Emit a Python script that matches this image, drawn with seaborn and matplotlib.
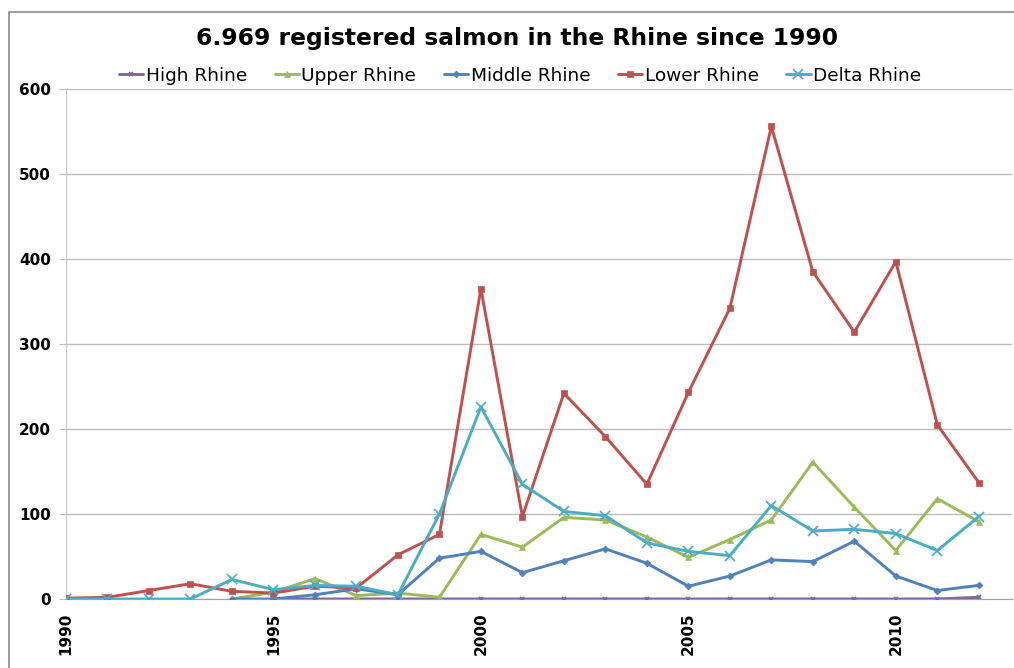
import numpy as np
import pandas as pd
import matplotlib
matplotlib.use("Agg")
import matplotlib.pyplot as plt
from matplotlib.patches import Rectangle
import seaborn as sns

years = list(range(1990, 2013))
high_rhine = [None]*5 + [0, 0, 0, 0, 0, 0, 0, 0, 0, 0, 0, 0, 0, 0, 0, 0, 0, 2]
upper_rhine = [None]*4 + [0, 8, 24, 4, 7, 2, 76, 61, 96, 93, 73, 49, 70, 93, 161, 108, 57, 118, 91]
middle_rhine = [None]*4 + [0, 0, 5, 12, 5, 48, 56, 31, 45, 59, 42, 15, 27, 46, 44, 68, 27, 10, 16]
lower_rhine = [1, 2, 10, 18, 9, 7, 15, 13, 52, 76, 365, 97, 242, 191, 135, 243, 342, 556, 385, 314, 397, 205, 137]
delta_rhine = [0, 0, 0, 0, 23, 11, 16, 15, 5, 100, 226, 135, 103, 98, 66, 56, 51, 110, 80, 82, 77, 57, 97]

series = {
    "High Rhine": high_rhine,
    "Upper Rhine": upper_rhine,
    "Middle Rhine": middle_rhine,
    "Lower Rhine": lower_rhine,
    "Delta Rhine": delta_rhine,
}
colors = {
    "High Rhine": "#8064A2",
    "Upper Rhine": "#9BBB59",
    "Middle Rhine": "#4F81BD",
    "Lower Rhine": "#C0504D",
    "Delta Rhine": "#4BACC6",
}
markers = {
    "High Rhine": "x",
    "Upper Rhine": "^",
    "Middle Rhine": "D",
    "Lower Rhine": "s",
    "Delta Rhine": "x",
}
msize = {
    "High Rhine": 3.5,
    "Upper Rhine": 4,
    "Middle Rhine": 3.5,
    "Lower Rhine": 4,
    "Delta Rhine": 7,
}

rows = []
for name, vals in series.items():
    for y, v in zip(years, vals):
        if v is not None:
            rows.append({"Year": y, "Salmon": v, "Region": name})
df = pd.DataFrame(rows)

sns.set_style("white")
plt.rcParams['font.family'] = ['DejaVu Sans']
plt.rcParams['text.color'] = 'black'
plt.rcParams['xtick.color'] = 'black'
plt.rcParams['ytick.color'] = 'black'

fig = plt.figure(figsize=(10.14, 6.68), dpi=100)
ax = fig.add_axes([66/1014, 1 - 599/668, (1012 - 66)/1014, (599 - 89)/668])

for name in series:
    sub = df[df["Region"] == name]
    sns.lineplot(data=sub, x="Year", y="Salmon", ax=ax, color=colors[name],
                 marker=markers[name], markersize=msize[name], linewidth=2.1,
                 markeredgewidth=1.2 if markers[name] == "x" else 0.5,
                 markeredgecolor=colors[name], label=name, zorder=3)

ax.set_xlim(1990, 2012.8)
ax.set_ylim(0, 600)
ax.set_yticks(range(0, 601, 100))
ax.set_xticks([1990, 1995, 2000, 2005, 2010])
ax.set_xticklabels(["1990", "1995", "2000", "2005", "2010"], rotation=90,
                   fontsize=11, fontweight="bold")
ax.set_yticklabels([str(v) for v in range(0, 601, 100)], fontsize=11, fontweight="bold")
ax.yaxis.grid(True, color="#bdbdbd", linewidth=1.0)
ax.set_axisbelow(True)
ax.set_xlabel("")
ax.set_ylabel("")
for s in ["top", "right"]:
    ax.spines[s].set_visible(False)
ax.spines["left"].set_color("#c8c8c8")
ax.spines["bottom"].set_color("#a0a0a0")
ax.tick_params(axis="y", which="both", left=True, length=5, color="#bdbdbd", pad=6,
               labelcolor="black")
ax.tick_params(axis="x", which="both", bottom=False, pad=6, labelcolor="black")

leg = ax.legend(loc="lower center", bbox_to_anchor=(0.48, 0.99), ncol=5, frameon=False,
                fontsize=13.3, handlelength=1.3, handletextpad=0.15, columnspacing=1.5,
                borderaxespad=0.1)

fig.text(517/1014, 1 - 38/668, "6.969 registered salmon in the Rhine since 1990",
         ha="center", va="center", fontsize=16.8, fontweight="bold", color="black")

fig.add_artist(Rectangle((9/1014, -0.05), 1.2, 1 - 12/668 + 0.05, transform=fig.transFigure,
                         fill=False, edgecolor="#8a8a8a", linewidth=1.2))

fig.savefig("out.png", dpi=100)
